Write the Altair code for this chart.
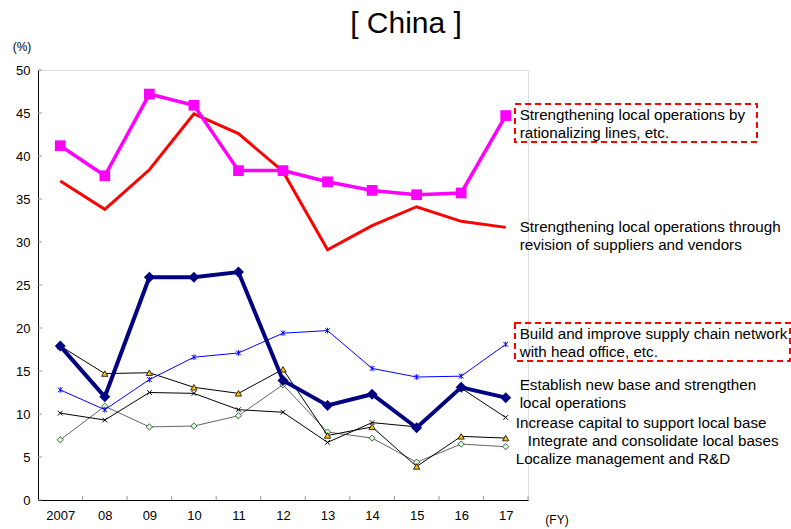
import altair as alt
import pandas as pd

# Fiscal years on the horizontal axis
years = ["2007", "08", "09", "10", "11", "12", "13", "14", "15", "16", "17"]

# Share of companies (%) choosing each initiative
rationalizing = [41.2, 37.7, 47.2, 45.9, 38.3, 38.3, 37.0, 36.0, 35.5, 35.7, 44.7]
suppliers = [37.1, 33.8, 38.4, 44.9, 42.6, 38.2, 29.1, 31.9, 34.1, 32.4, 31.7]
new_base = [17.9, 12.0, 25.9, 25.9, 26.5, 13.9, 11.0, 12.3, 8.4, 13.1, 11.9]
supply_chain = [12.8, 10.5, 14.0, 16.6, 17.1, 19.4, 19.7, 15.3, 14.3, 14.4, 18.1]
capital = [10.1, 9.3, 12.5, 12.4, 10.5, 10.2, 6.7, 9.0, 8.5, 13.0, 9.6]
integrate = [17.9, 14.7, 14.8, 13.1, 12.4, 15.2, 7.5, 8.5, 3.9, 7.4, 7.2]
localize = [7.0, 10.9, 8.5, 8.6, 9.8, 13.4, 7.9, 7.2, 4.4, 6.5, 6.2]

# Series labels written beside the last year; level (in %) of each label's first line
label_texts = [
    "Strengthening local operations by\nrationalizing lines, etc.",
    "Strengthening local operations through\nrevision of suppliers and vendors",
    "Build and improve supply chain network\nwith head office, etc.",
    "Establish new base and strengthen\nlocal operations",
    "Increase capital to support local base",
    "Integrate and consolidate local bases",
    "Localize management and R&D",
]
label_levels = [44.77, 31.74, 19.3, 13.37, 8.95, 6.86, 4.77]
label_shift = [14, 14, 14, 14, 10, 22, 10]

y_ticks = list(range(0, 55, 5))

W, H = 490, 430
FONT = "Liberation Sans"
step = W / len(years)

x_enc = alt.X(
    "year:N",
    sort=years,
    scale=alt.Scale(type="point", padding=0.5),
    axis=alt.Axis(
        title=None, ticks=False, grid=False, domainColor="black",
        labelColor="black", labelFontSize=13, labelFont=FONT,
        labelPadding=9, labelAngle=0,
    ),
)
y_enc = alt.Y(
    "value:Q",
    scale=alt.Scale(domain=[0, 50], nice=False, zero=True),
    axis=alt.Axis(
        title=None, ticks=False, grid=False, domainColor="black",
        values=y_ticks, labelColor="black", labelFontSize=13,
        labelFont=FONT, labelPadding=8,
    ),
)


def frame(values):
    return pd.DataFrame({"year": years, "value": values})


def series(values, line_color, line_width, point_mark=None):
    base = alt.Chart(frame(values))
    layers = [base.mark_line(color=line_color, strokeWidth=line_width).encode(x=x_enc, y=y_enc)]
    if point_mark is not None:
        layers.append(base.mark_point(**point_mark).encode(x=x_enc, y=y_enc))
    return layers


cross = "M-1,-1L1,1M-1,1L1,-1"
asterisk = "M-1,-1L1,1M-1,1L1,-1M0,-1.2L0,1.2"

layers = []
layers += series(localize, "#666666", 1,
                 dict(shape="diamond", filled=True, fill="#CCFFCC", stroke="#333333",
                      strokeWidth=0.8, size=40, opacity=1))
layers += series(integrate, "#000000", 1,
                 dict(shape="triangle-up", filled=True, fill="#FFC000", stroke="#000000",
                      strokeWidth=0.8, size=40, opacity=1))
layers += series(capital, "#000000", 1,
                 dict(shape=cross, filled=False, stroke="#000000", strokeWidth=1,
                      size=22, opacity=1))
layers += series(supply_chain, "#0000FF", 1,
                 dict(shape=asterisk, filled=False, stroke="#0000FF", strokeWidth=1,
                      size=22, opacity=1))
layers += series(suppliers, "#FF0000", 3)
layers += series(rationalizing, "#FF00FF", 3.5,
                 dict(shape="square", filled=True, color="#FF00FF", size=115, opacity=1))
layers += series(new_base, "#000080", 4,
                 dict(shape="diamond", filled=True, color="#000080", size=120, opacity=1))

# Short inward tick marks on both axes
y_tick_marks = alt.Chart(pd.DataFrame({"value": y_ticks})).mark_rule(
    color="#999999", strokeWidth=1
).encode(y=alt.Y("value:Q", scale=alt.Scale(domain=[0, 50], nice=False)),
         x=alt.value(0), x2=alt.value(4))
x_tick_marks = alt.Chart(pd.DataFrame({"year": years[1:]})).mark_rule(
    color="#999999", strokeWidth=1, xOffset=-step / 2
).encode(x=alt.X("year:N", sort=years), y=alt.value(H - 4), y2=alt.value(H))
x_end_tick = alt.Chart(pd.DataFrame({"k": [0]})).mark_rule(
    color="#999999", strokeWidth=1
).encode(x=alt.value(W), y=alt.value(H - 4), y2=alt.value(H))
layers += [y_tick_marks, x_tick_marks, x_end_tick]

# Series labels to the right of the plot
label_df = pd.DataFrame({
    "year": ["17"] * len(label_texts),
    "value": label_levels,
    "text": label_texts,
    "shift": label_shift,
})
for shift in sorted(set(label_shift)):
    layers.append(
        alt.Chart(label_df[label_df["shift"] == shift]).mark_text(
            align="left", baseline="middle", dx=shift, fontSize=15.2, font=FONT,
            color="black", lineBreak="\n", lineHeight=18,
        ).encode(x=alt.X("year:N", sort=years), y=alt.Y("value:Q"), text="text:N")
    )

# Dashed red highlight boxes around two labels
boxes = pd.DataFrame({
    "x1": [477, 477], "x2": [719, 752], "y1": [34, 253], "y2": [72, 291],
})
for _, b in boxes.iterrows():
    layers.append(
        alt.Chart(pd.DataFrame({"k": [0]})).mark_rect(
            fill=None, fillOpacity=0, stroke="#FF0000", strokeWidth=2,
            strokeDash=[6, 4],
        ).encode(x=alt.value(b.x1), x2=alt.value(b.x2), y=alt.value(b.y1), y2=alt.value(b.y2))
    )

# Title and unit captions
def caption(text, x, y, size, align="center"):
    return alt.Chart(pd.DataFrame({"k": [0]})).mark_text(
        align=align, baseline="middle", fontSize=size, font=FONT, color="black"
    ).encode(x=alt.value(x), y=alt.value(y), text=alt.value(text))


layers += [
    caption("[ China ]", 368, -46, 30),
    caption("(%)", -16, -23, 12),
    caption("(FY)", 519, 450, 12),
]

chart = alt.layer(*layers).properties(
    width=W, height=H,
    padding={"left": 38, "top": 70, "right": 263, "bottom": 29},
    autosize=alt.AutoSizeParams(type="none"),
).configure_view(stroke=None).configure(background="white")

chart.save("out.html", embed_options={"renderer": "svg", "actions": False})
